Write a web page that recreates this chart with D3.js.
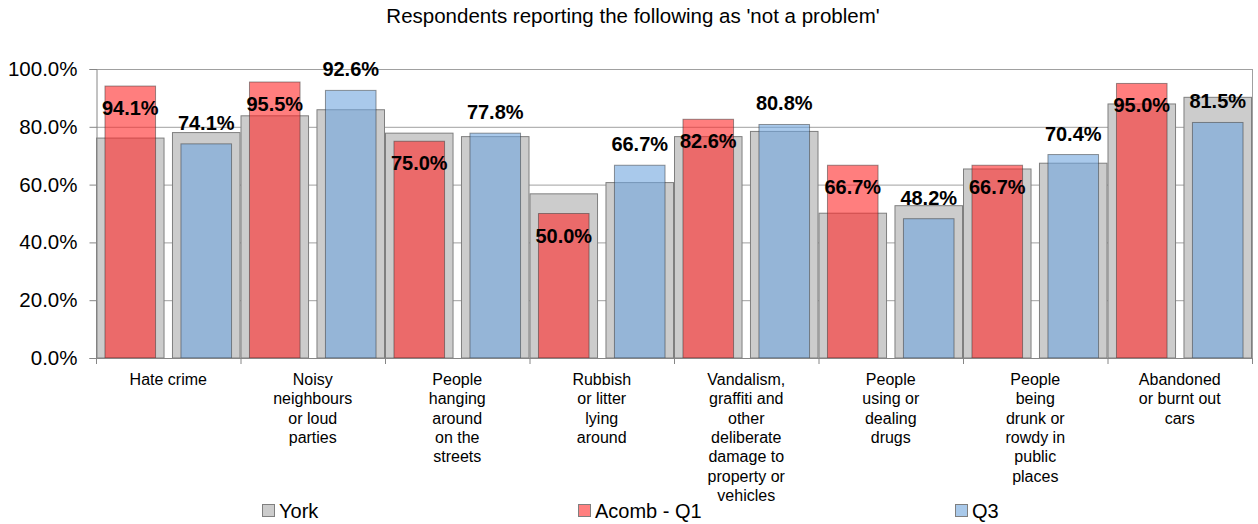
<!DOCTYPE html>
<html>
<head>
<meta charset="utf-8">
<script src="https://cdn.jsdelivr.net/npm/d3@7"></script>
<style>
  body { margin: 0; background: #fff; }
  svg { font-family: "Liberation Sans", Arial, sans-serif; display: block; }
</style>
</head>
<body>
<svg id="svg" width="1258" height="524"></svg>
<script>
// data
const categories = [
  ["Hate crime"],
  ["Noisy", "neighbours", "or loud", "parties"],
  ["People", "hanging", "around", "on the", "streets"],
  ["Rubbish", "or litter", "lying", "around"],
  ["Vandalism,", "graffiti and", "other", "deliberate", "damage to", "property or", "vehicles"],
  ["People", "using or", "dealing", "drugs"],
  ["People", "being", "drunk or", "rowdy in", "public", "places"],
  ["Abandoned", "or burnt out", "cars"]
];
const yorkQ1 = [0.761, 0.838, 0.778, 0.568, 0.766, 0.501, 0.654, 0.879];
const yorkQ3 = [0.780, 0.859, 0.766, 0.607, 0.784, 0.527, 0.674, 0.902];
const acombQ1 = [0.941, 0.955, 0.750, 0.500, 0.826, 0.667, 0.667, 0.950];
const acombQ3 = [0.741, 0.926, 0.778, 0.667, 0.808, 0.482, 0.704, 0.815];
const yTicks = [0, 0.2, 0.4, 0.6, 0.8, 1.0];
const legendItems = ["York", "Acomb - Q1", "Q3"];

const svg = d3.select("#svg");
const LEFT = 96, RIGHT = 1252, TOP = 69, BOTTOM = 358;

const x = d3.scaleBand().domain(d3.range(categories.length)).range([LEFT, RIGHT]).padding(0);
const slot = d3.scaleBand().domain([0, 1]).range([0, x.bandwidth()]).paddingInner(0.098).paddingOuter(0);
const y = d3.scaleLinear().domain([0, 1]).range([BOTTOM, TOP]);
const fmt = d3.format(".1%");

// title
svg.append("text")
  .attr("x", 633).attr("y", 23)
  .attr("text-anchor", "middle")
  .style("font-size", "20.5px")
  .text("Respondents reporting the following as 'not a problem'");

// gridlines
svg.append("g").selectAll("line")
  .data(yTicks.filter(d => d > 0))
  .enter().append("line")
  .attr("x1", LEFT).attr("x2", RIGHT)
  .attr("y1", d => y(d) + 0.5).attr("y2", d => y(d) + 0.5)
  .attr("stroke", "#a0a0a0").attr("stroke-width", 1);

// right border
svg.append("line")
  .attr("x1", RIGHT + 0.5).attr("x2", RIGHT + 0.5)
  .attr("y1", TOP).attr("y2", BOTTOM)
  .attr("stroke", "#a0a0a0");

// york bars (behind)
const york = [];
yorkQ1.forEach((v, i) => york.push({ i: i, s: 0, v: v }));
yorkQ3.forEach((v, i) => york.push({ i: i, s: 1, v: v }));

svg.append("g").selectAll("rect")
  .data(york)
  .enter().append("rect")
  .attr("x", d => x(d.i) + slot(d.s) + 0.5)
  .attr("y", d => y(d.v))
  .attr("width", slot.bandwidth() - 1)
  .attr("height", d => y(0) - y(d.v))
  .attr("fill", "#cccccc")
  .attr("stroke", "#7f7f7f")
  .attr("stroke-width", 1);

// acomb bars
const inner = slot.bandwidth() * 0.738;
const acomb = [];
acombQ1.forEach((v, i) => acomb.push({ i: i, s: 0, v: v, c: "rgb(255,40,40)" }));
acombQ3.forEach((v, i) => acomb.push({ i: i, s: 1, v: v, c: "rgb(111,165,222)" }));

svg.append("g").selectAll("rect")
  .data(acomb)
  .enter().append("rect")
  .attr("x", d => x(d.i) + slot(d.s) + (slot.bandwidth() - inner) / 2)
  .attr("y", d => y(d.v))
  .attr("width", inner)
  .attr("height", d => y(0) - y(d.v))
  .attr("fill", d => d.c)
  .attr("fill-opacity", 0.6)
  .attr("stroke", "#333")
  .attr("stroke-opacity", 0.5)
  .attr("stroke-width", 1);

// value labels
svg.append("g").selectAll("text")
  .data(acomb)
  .enter().append("text")
  .attr("x", d => x(d.i) + slot(d.s) + slot.bandwidth() / 2)
  .attr("y", d => d.s === 0 ? y(d.v) + 29 : y(d.v) - 14)
  .attr("text-anchor", "middle")
  .style("font-size", "20px")
  .style("font-weight", "bold")
  .text(d => fmt(d.v));

// y axis
const yAxis = svg.append("g")
  .attr("transform", "translate(" + (LEFT + 0.5) + ",0)")
  .call(d3.axisLeft(y).tickValues(yTicks).tickFormat(fmt).tickSize(7).tickPadding(12));
yAxis.select(".domain").attr("stroke", "#868686");
yAxis.selectAll(".tick line").attr("stroke", "#868686");
yAxis.selectAll(".tick text")
  .style("font-size", "20.5px")
  .style("font-family", "Liberation Sans, Arial, sans-serif")
  .attr("fill", "#000");

// x axis line and ticks
svg.append("line")
  .attr("x1", LEFT).attr("x2", RIGHT)
  .attr("y1", BOTTOM + 0.5).attr("y2", BOTTOM + 0.5)
  .attr("stroke", "#868686");
svg.append("g").selectAll("line")
  .data(d3.range(categories.length + 1))
  .enter().append("line")
  .attr("x1", d => (d < categories.length ? x(d) : RIGHT) + 0.5)
  .attr("x2", d => (d < categories.length ? x(d) : RIGHT) + 0.5)
  .attr("y1", BOTTOM).attr("y2", BOTTOM + 6)
  .attr("stroke", "#868686");

// category labels
const catText = svg.append("g").selectAll("text")
  .data(categories)
  .enter().append("text")
  .attr("text-anchor", "middle")
  .style("font-size", "16px")
  .attr("transform", (d, i) => "translate(" + (x(i) + x.bandwidth() / 2) + ",385)");
catText.selectAll("tspan")
  .data(d => d)
  .enter().append("tspan")
  .attr("x", 0)
  .attr("dy", (d, j) => j === 0 ? 0 : 19.3)
  .text(d => d);

// legend
const legendX = [262, 578, 955];
const legendFill = ["#cccccc", "#ff8080", "#a9c9ea"];
const leg = svg.append("g").selectAll("g")
  .data(legendItems)
  .enter().append("g")
  .attr("transform", (d, i) => "translate(" + legendX[i] + ",504)");
leg.append("rect")
  .attr("x", 0.5).attr("y", 0.5)
  .attr("width", 12).attr("height", 12)
  .attr("fill", (d, i) => legendFill[i])
  .attr("stroke", "#7f7f7f");
leg.append("text")
  .attr("x", 17).attr("y", 14)
  .style("font-size", "20px")
  .text(d => d);
</script>
</body>
</html>
